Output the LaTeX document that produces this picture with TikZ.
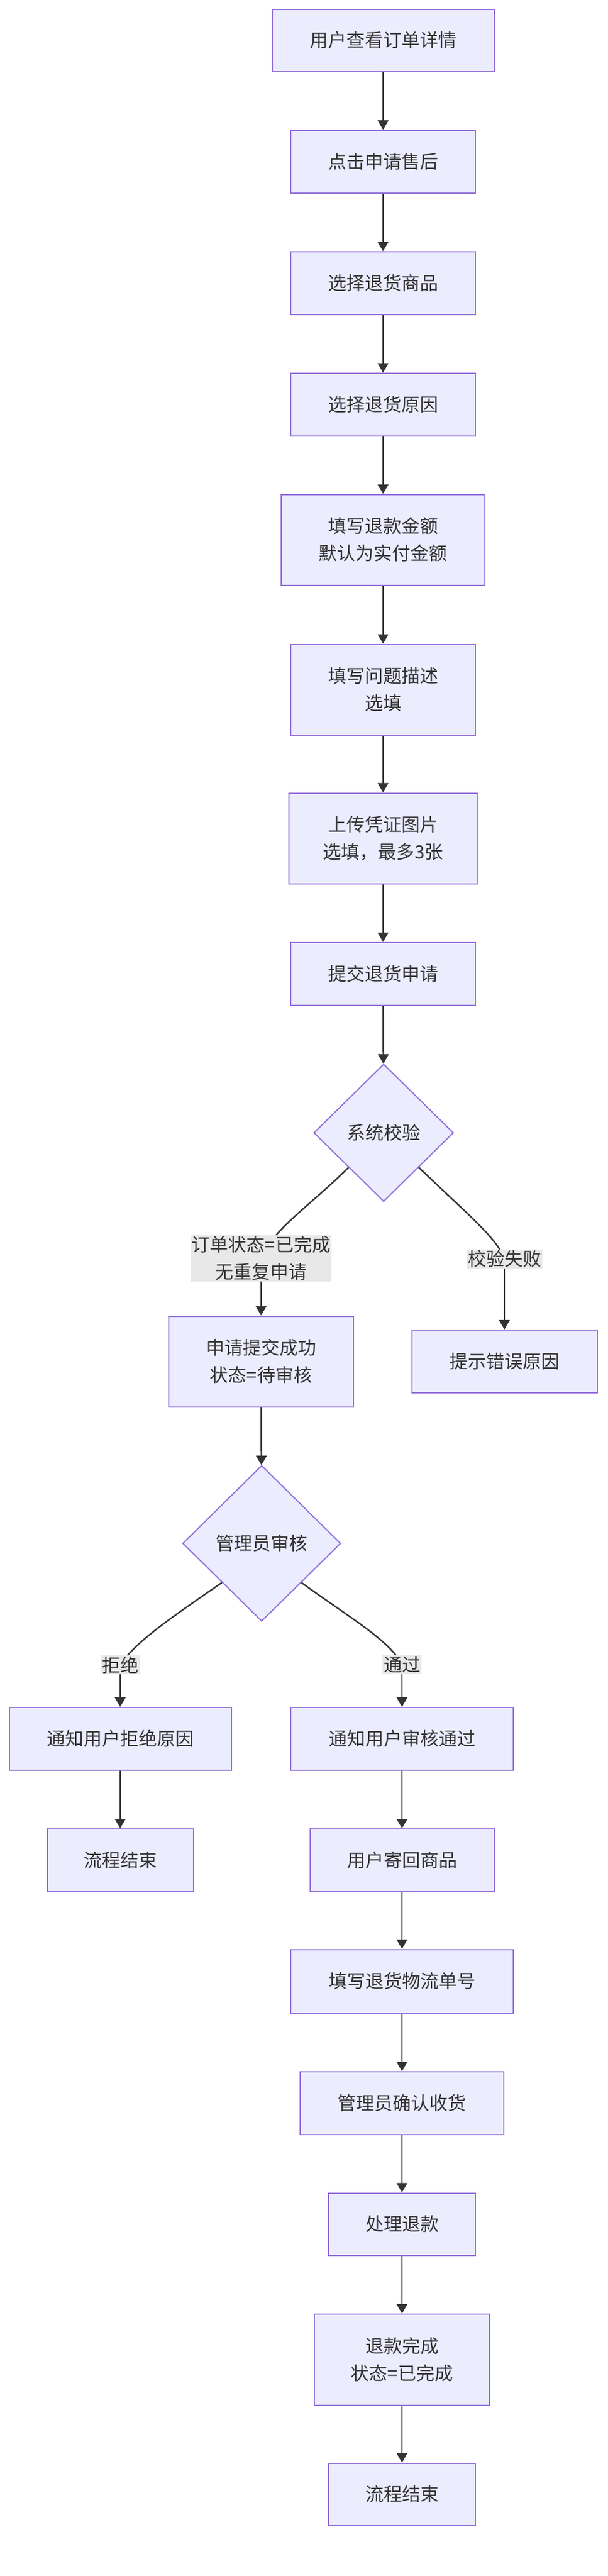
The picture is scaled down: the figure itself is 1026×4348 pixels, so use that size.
\documentclass[tikz,border=0pt]{standalone}
\usepackage{fontspec}
\setmainfont{Noto Sans CJK SC}
\usetikzlibrary{shapes.geometric,arrows.meta}
\definecolor{nfill}{HTML}{ECECFF}
\definecolor{nline}{HTML}{9370DB}
\definecolor{eline}{HTML}{333333}
\definecolor{lbg}{HTML}{E8E8E8}
\begin{document}
\begin{tikzpicture}[x=1pt,y=-1pt,
  box/.style={draw=nline,fill=nfill,line width=2pt,inner sep=0pt,align=center,font=\fontsize{31}{46}\selectfont,text=eline},
  dia/.style={box,diamond},
  lab/.style={fill=lbg,inner sep=2pt,align=center,font=\fontsize{31}{46}\selectfont,text=eline},
  e/.style={draw=eline,line width=2.5pt,-{Triangle[length=16pt,width=18pt]}},
  l/.style={draw=eline,line width=2.5pt}]
\useasboundingbox (0,0) rectangle (1026,4348);
\node[box,minimum width=375,minimum height=105] (n1) at (647,68) {用户查看订单详情};
\node[box,minimum width=312,minimum height=106] (n2) at (647,273) {点击申请售后};
\node[box,minimum width=312,minimum height=106] (n3) at (647,478) {选择退货商品};
\node[box,minimum width=312,minimum height=106] (n4) at (647,683) {选择退货原因};
\node[box,minimum width=344,minimum height=153] (n5) at (647,911) {填写退款金额\\默认为实付金额};
\node[box,minimum width=312,minimum height=153] (n6) at (647,1164) {填写问题描述\\选填};
\node[box,minimum width=318,minimum height=153] (n7) at (647,1415) {上传凭证图片\\选填，最多3张};
\node[box,minimum width=312,minimum height=106] (n8) at (647,1644) {提交退货申请};
\node[dia,minimum width=236,minimum height=232] (d1) at (648,1912) {系统校验};
\node[box,minimum width=312,minimum height=153] (n9) at (441,2298) {申请提交成功\\状态=待审核};
\node[box,minimum width=313,minimum height=106] (n10) at (852,2298) {提示错误原因};
\node[dia,minimum width=267,minimum height=263] (d2) at (442,2605) {管理员审核};
\node[box,minimum width=375,minimum height=106] (n11) at (203,2935) {通知用户拒绝原因};
\node[box,minimum width=376,minimum height=106] (n12) at (679,2935) {通知用户审核通过};
\node[box,minimum width=247,minimum height=106] (n13) at (203,3140) {流程结束};
\node[box,minimum width=311,minimum height=106] (n14) at (679,3140) {用户寄回商品};
\node[box,minimum width=376,minimum height=107] (n15) at (679,3344) {填写退货物流单号};
\node[box,minimum width=344,minimum height=106] (n16) at (679,3550) {管理员确认收货};
\node[box,minimum width=248,minimum height=105] (n17) at (679,3754) {处理退款};
\node[box,minimum width=296,minimum height=154] (n18) at (679,3983) {退款完成\\状态=已完成};
\node[box,minimum width=248,minimum height=105] (n19) at (679,4210) {流程结束};
\draw[e] (n1) -- (n2);
\draw[e] (n2) -- (n3);
\draw[e] (n3) -- (n4);
\draw[e] (n4) -- (n5);
\draw[e] (n5) -- (n6);
\draw[e] (n6) -- (n7);
\draw[e] (n7) -- (n8);
\draw[e] (n8) -- (d1);
\node[lab] (l1) at (441,2124) {订单状态=已完成\\无重复申请};
\node[lab] (l2) at (852,2125) {校验失败};
\draw[l] (d1.south west) .. controls (530,2030) and (460,2075) .. (l1.center);
\draw[e] (l1.center) .. controls (441,2170) and (441,2190) .. (n9.north);
\draw[l] (d1.south east) .. controls (790,2050) and (840,2090) .. (l2.center);
\draw[e] (l2.center) .. controls (852,2180) and (852,2210) .. (n10.north);
\node[lab] at (441,2124) {订单状态=已完成\\无重复申请};
\node[lab] at (852,2125) {校验失败};
\draw[e] (n9) -- (d2);
\node[lab] (l3) at (203,2810) {拒绝};
\node[lab] (l4) at (679,2810) {通过};
\draw[l] (d2.south west) .. controls (290,2730) and (230,2770) .. (l3.center);
\draw[e] (l3.center) .. controls (203,2850) and (203,2860) .. (n11.north);
\draw[l] (d2.south east) .. controls (590,2730) and (660,2770) .. (l4.center);
\draw[e] (l4.center) .. controls (679,2850) and (679,2860) .. (n12.north);
\node[lab] at (203,2810) {拒绝};
\node[lab] at (679,2810) {通过};
\draw[e] (n11) -- (n13);
\draw[e] (n12) -- (n14);
\draw[e] (n14) -- (n15);
\draw[e] (n15) -- (n16);
\draw[e] (n16) -- (n17);
\draw[e] (n17) -- (n18);
\draw[e] (n18) -- (n19);
\end{tikzpicture}
\end{document}
